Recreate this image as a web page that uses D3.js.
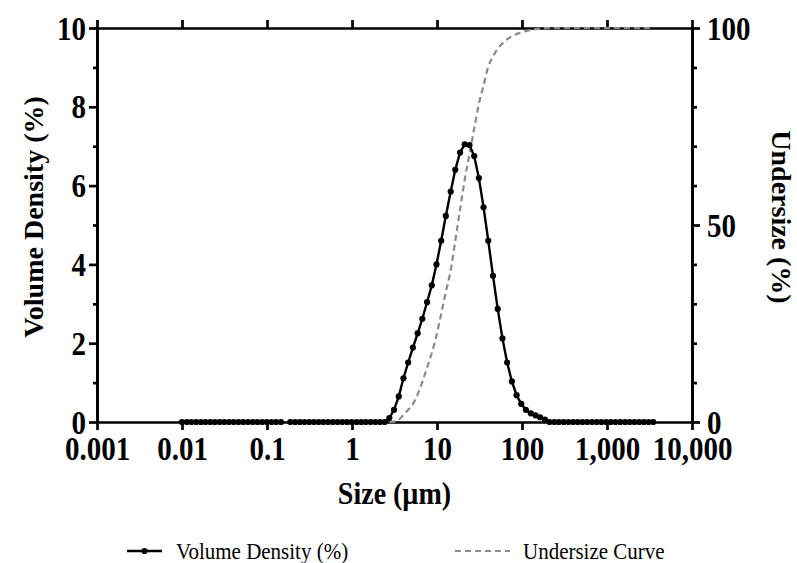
<!DOCTYPE html>
<html>
<head>
<meta charset="utf-8">
<script src="https://cdn.jsdelivr.net/npm/d3@7/dist/d3.min.js"></script>
<style>
  html, body { margin: 0; padding: 0; background: #fff; }
  svg { display: block; }
  text { font-family: "Liberation Serif", "Times New Roman", serif; }
  .tall { transform-box: fill-box; transform-origin: center; transform: scaleY(1.13); }
</style>
</head>
<body>
<svg id="chart" width="797" height="563"></svg>
<script>
// ---------- DATA ----------
const sizes = [0.0100, 0.0114, 0.0129, 0.0147, 0.0167, 0.0189, 0.0215, 0.0244, 0.0278, 0.0315,
  0.0358, 0.0407, 0.0463, 0.0526, 0.0597, 0.0679, 0.0771, 0.0876, 0.0995, 0.113,
  0.128, 0.146, 0.166, 0.188, 0.214, 0.243, 0.276, 0.314, 0.357, 0.405,
  0.460, 0.523, 0.594, 0.675, 0.767, 0.872, 0.991, 1.13, 1.28, 1.45,
  1.65, 1.88, 2.13, 2.42, 2.75, 3.12, 3.55, 4.03, 4.58, 5.21,
  5.92, 6.72, 7.64, 8.68, 9.86, 11.2, 12.7, 14.5, 16.4, 18.7,
  21.2, 24.1, 27.4, 31.1, 35.3, 40.1, 45.6, 51.8, 58.9, 66.9,
  76.0, 86.4, 98.1, 111, 127, 144, 163, 186, 211, 240,
  272, 310, 352, 400, 454, 516, 586, 666, 756, 859,
  976, 1110, 1260, 1430, 1630, 1850, 2100, 2390, 2710, 3080, 3500];

const volumeDensity = [0, 0, 0, 0, 0, 0, 0, 0, 0, 0,
  0, 0, 0, 0, 0, 0, 0, 0, 0, 0,
  0, 0, null, 0, 0, 0, 0, 0, 0, 0,
  0, 0, 0, 0, 0, 0, 0, 0, 0, 0,
  0, 0, 0, 0, 0.10, 0.31, 0.65, 1.11, 1.51, 1.89,
  2.25, 2.62, 3.04, 3.47, 4.00, 4.60, 5.23, 5.85, 6.40, 6.84,
  7.05, 7.03, 6.75, 6.19, 5.45, 4.60, 3.71, 2.87, 2.12, 1.51,
  1.03, 0.68, 0.46, 0.31, 0.22, 0.17, 0.12, 0.06, 0, 0,
  0, 0, 0, 0, 0, 0, 0, 0, 0, 0,
  0, 0, 0, 0, 0, 0, 0, 0, 0, 0, 0];

const undersize = [null, null, null, null, null, null, null, null, null, null,
  null, null, null, null, null, null, null, null, null, null,
  null, null, null, null, null, null, null, null, null, null,
  null, null, null, null, null, null, null, null, null, null,
  null, null, null, null, 0, 0.1, 0.6, 1.8, 3.1, 4.6,
  7.0, 10.2, 13.8, 17.5, 22.0, 27.5, 33.0, 38.5, 46.0, 54.0,
  61.5, 68.0, 74.5, 80.7, 85.4, 90.2, 92.8, 94.7, 96.1, 97.1,
  97.9, 98.5, 98.9, 99.2, 99.5, 99.7, 99.85, 99.95, 100, 100,
  100, 100, 100, 100, 100, 100, 100, 100, 100, 100,
  100, 100, 100, 100, 100, 100, 100, 100, 100, 100, 100];

const xTicks = [0.001, 0.01, 0.1, 1, 10, 100, 1000, 10000];
const xTickLabels = ["0.001", "0.01", "0.1", "1", "10", "100", "1,000", "10,000"];
const yLeftTicks = [0, 2, 4, 6, 8, 10];
const yLeftMinor = [1, 3, 5, 7, 9];
const yRightTicks = [0, 50, 100];
const yRightMinor = [10, 20, 30, 40, 60, 70, 80, 90];
const seriesNames = ["Volume Density (%)", "Undersize Curve"];

// ---------- LAYOUT ----------
const svg = d3.select("#chart");
const L = 97, R = 692, T = 28, B = 422;

const x = d3.scaleLog().domain([0.001, 10000]).range([L, R]);
const yL = d3.scaleLinear().domain([0, 10]).range([B, T]);
const yR = d3.scaleLinear().domain([0, 100]).range([B, T]);

const tickFont = 29;
const axisStroke = 2.7;

function styleAxis(g) {
  g.select(".domain").attr("stroke", "#000").attr("stroke-width", axisStroke);
  g.selectAll(".tick line").attr("stroke", "#000").attr("stroke-width", axisStroke);
  g.selectAll(".tick text")
    .attr("class", "tall")
    .attr("font-family", "'Liberation Serif', 'Times New Roman', serif")
    .attr("font-weight", "bold").attr("font-size", tickFont).attr("fill", "#000");
}

// bottom axis
const gx = svg.append("g").attr("transform", `translate(0,${B})`)
  .call(d3.axisBottom(x).tickValues(xTicks)
    .tickFormat((d, i) => xTickLabels[i]).tickSize(8).tickPadding(6).tickSizeOuter(0));
styleAxis(gx);
gx.selectAll(".tick text").attr("dy", "0.8em");

// top axis (ticks outward, no labels)
const gt = svg.append("g").attr("transform", `translate(0,${T})`)
  .call(d3.axisTop(x).tickValues(xTicks).tickFormat("").tickSize(8).tickSizeOuter(0));
styleAxis(gt);

// left axis
const gyMinor = svg.append("g").attr("transform", `translate(${L},0)`)
  .call(d3.axisLeft(yL).tickValues(yLeftMinor).tickFormat("").tickSize(4).tickSizeOuter(0));
styleAxis(gyMinor);
const gy = svg.append("g").attr("transform", `translate(${L},0)`)
  .call(d3.axisLeft(yL).tickValues(yLeftTicks).tickFormat(d3.format("d")).tickSize(8).tickPadding(3).tickSizeOuter(0));
styleAxis(gy);
gy.selectAll(".tick text").attr("dy", "0.34em");

// right axis
const gyrMinor = svg.append("g").attr("transform", `translate(${R},0)`)
  .call(d3.axisRight(yR).tickValues(yRightMinor).tickFormat("").tickSize(5).tickSizeOuter(0));
styleAxis(gyrMinor);
const gyr = svg.append("g").attr("transform", `translate(${R},0)`)
  .call(d3.axisRight(yR).tickValues(yRightTicks).tickFormat(d3.format("d")).tickSize(8).tickPadding(7).tickSizeOuter(0));
styleAxis(gyr);
gyr.selectAll(".tick text").attr("dy", "0.34em");

// ---------- SERIES ----------
const data = sizes.map((s, i) => ({ s, v: volumeDensity[i], u: undersize[i] }));

// undersize dashed curve
const uLine = d3.line()
  .defined(d => d.u !== null)
  .x(d => x(d.s)).y(d => yR(d.u))
  .curve(d3.curveMonotoneX);
svg.append("path").datum(data)
  .attr("d", uLine)
  .attr("fill", "none").attr("stroke", "#8a8a8a")
  .attr("stroke-width", 2.2).attr("stroke-dasharray", "6,4");

// volume density line
const vLine = d3.line()
  .defined(d => d.v !== null)
  .x(d => x(d.s)).y(d => yL(d.v));
svg.append("path").datum(data)
  .attr("d", vLine)
  .attr("fill", "none").attr("stroke", "#000").attr("stroke-width", 2.4);

svg.append("g").selectAll("circle")
  .data(data.filter(d => d.v !== null))
  .join("circle")
  .attr("cx", d => x(d.s)).attr("cy", d => yL(d.v))
  .attr("r", 3.1).attr("fill", "#000");

// ---------- TITLES ----------
svg.append("text")
  .attr("class", "tall")
  .attr("x", (L + R) / 2).attr("y", 503)
  .attr("text-anchor", "middle").attr("font-weight", "bold").attr("font-size", 28)
  .text("Size (\u00b5m)");

svg.append("text")
  .attr("transform", `translate(43,${(T + B) / 2 - 8}) rotate(-90)`)
  .attr("text-anchor", "middle").attr("font-weight", "bold").attr("font-size", 28)
  .text("Volume Density (%)");

svg.append("text")
  .attr("transform", `translate(772,${(T + B) / 2 - 8}) rotate(90)`)
  .attr("text-anchor", "middle").attr("font-weight", "bold").attr("font-size", 28)
  .text("Undersize (%)");

// ---------- LEGEND ----------
const lgY = 551;
const lg = svg.append("g");
lg.append("line").attr("x1", 127).attr("x2", 162).attr("y1", lgY).attr("y2", lgY)
  .attr("stroke", "#000").attr("stroke-width", 2.4);
lg.append("circle").attr("cx", 144.5).attr("cy", lgY).attr("r", 3.1).attr("fill", "#000");
lg.append("text").attr("class", "tall").attr("x", 176).attr("y", lgY + 7).attr("font-size", 21)
  .text(seriesNames[0]);
lg.append("line").attr("x1", 455).attr("x2", 510).attr("y1", lgY).attr("y2", lgY)
  .attr("stroke", "#8a8a8a").attr("stroke-width", 2.2).attr("stroke-dasharray", "6,4");
lg.append("text").attr("class", "tall").attr("x", 523).attr("y", lgY + 7).attr("font-size", 21)
  .text(seriesNames[1]);
</script>
</body>
</html>
